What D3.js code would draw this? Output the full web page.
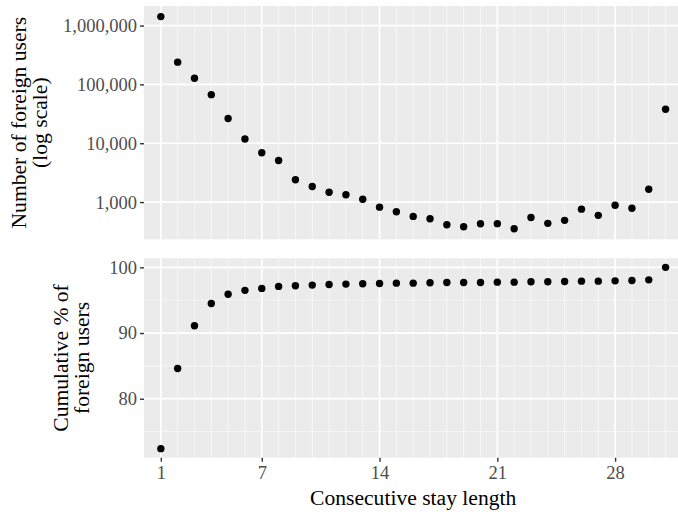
<!DOCTYPE html>
<html>
<head>
<meta charset="utf-8">
<script src="https://cdn.jsdelivr.net/npm/d3@7"></script>
<style>
    body { margin: 0; background: #fff; }
    svg { display: block; font-family: "Liberation Serif", "DejaVu Serif", serif; }
</style>
</head>
<body>
<script>
"use strict";
(function(){
    // stay length in days
    const stayLength = [1, 2, 3, 4, 5, 6, 7, 8, 9, 10, 11, 12, 13, 14, 15, 16,
                        17, 18, 19, 20, 21, 22, 23, 24, 25, 26, 27, 28, 29, 30, 31];
    // number of foreign users
    const users = [1420000, 239000, 127000, 67000, 26300, 11800, 6900, 5100, 2400, 1840,
                   1470, 1330, 1120, 820, 686, 571, 521, 413, 382, 429,
                   430, 353, 548, 435, 489, 759, 595, 881, 785, 1650, 37900];
    // cumulative % of foreign users
    const cumPct = [72.4, 84.6, 91.1, 94.5, 95.9, 96.5, 96.8, 97.1, 97.2, 97.3,
                    97.4, 97.45, 97.5, 97.55, 97.6, 97.6, 97.65, 97.7, 97.7, 97.7,
                    97.75, 97.75, 97.8, 97.8, 97.85, 97.9, 97.9, 97.95, 98.0, 98.1, 100];

    const xBreaks = [1, 7, 14, 21, 28];
    const topBreaks = [1000, 10000, 100000, 1000000];
    const bottomBreaks = [80, 90, 100];
    const bottomMinor = [75, 85, 95];

    const measurements = {
        width: 678,
        height: 512,
        left: 144,
        right: 682.4,
        topPanel: [6, 239.3],
        bottomPanel: [258.3, 457.7]
    }

    let svgContainer = "";

    window.onload = function() {
        svgContainer = d3.select('body').append("svg")
            .attr('width', measurements.width)
            .attr('height', measurements.height);
        makePlot();
    }

    function expanded(lo, hi) {
        const pad = (hi - lo) * 0.05;
        return [lo - pad, hi + pad];
    }

    function makePlot() {
        const scaleX = d3.scaleLinear()
            .domain([0, 32])
            .range([measurements.left, measurements.right]);

        const logExt = expanded(Math.log10(d3.min(users)), Math.log10(d3.max(users)));
        const scaleTop = d3.scaleLog()
            .domain([Math.pow(10, logExt[0]), Math.pow(10, logExt[1])])
            .range([measurements.topPanel[1], measurements.topPanel[0]]);

        const scaleBottom = d3.scaleLinear()
            .domain(expanded(d3.min(cumPct), d3.max(cumPct)))
            .range([measurements.bottomPanel[1], measurements.bottomPanel[0]]);

        drawPanel(scaleX, scaleTop, measurements.topPanel, topBreaks, [], users, d3.format(","));
        drawPanel(scaleX, scaleBottom, measurements.bottomPanel, bottomBreaks, bottomMinor, cumPct, d3.format("d"));

        // bottom x axis
        const xAxis = d3.axisBottom(scaleX)
            .tickValues(xBreaks)
            .tickSize(4)
            .tickPadding(4)
            .tickFormat(d3.format("d"));
        styleAxis(svgContainer.append('g')
            .attr('transform', 'translate(0,' + measurements.bottomPanel[1] + ')')
            .call(xAxis));

        makeLabels();
    }

    function drawPanel(scaleX, scaleY, panel, breaks, minor, values, fmt) {
        const g = svgContainer.append('g');
        g.append('rect')
            .attr('x', measurements.left)
            .attr('y', panel[0])
            .attr('width', measurements.right - measurements.left)
            .attr('height', panel[1] - panel[0])
            .attr('fill', '#EBEBEB');

        // minor grid
        g.selectAll('.vminor')
            .data(stayLength.filter((d) => xBreaks.indexOf(d) < 0))
            .enter().append('line')
            .attr('x1', (d) => scaleX(d)).attr('x2', (d) => scaleX(d))
            .attr('y1', panel[0]).attr('y2', panel[1])
            .attr('stroke', '#F7F7F7').attr('stroke-width', 0.9);
        g.selectAll('.hminor')
            .data(minor)
            .enter().append('line')
            .attr('x1', measurements.left).attr('x2', measurements.right)
            .attr('y1', (d) => scaleY(d)).attr('y2', (d) => scaleY(d))
            .attr('stroke', '#F7F7F7').attr('stroke-width', 0.9);

        // major grid
        g.selectAll('.vmajor')
            .data(xBreaks)
            .enter().append('line')
            .attr('x1', (d) => scaleX(d)).attr('x2', (d) => scaleX(d))
            .attr('y1', panel[0]).attr('y2', panel[1])
            .attr('stroke', '#FFFFFF').attr('stroke-width', 1.7);
        g.selectAll('.hmajor')
            .data(breaks)
            .enter().append('line')
            .attr('x1', measurements.left).attr('x2', measurements.right)
            .attr('y1', (d) => scaleY(d)).attr('y2', (d) => scaleY(d))
            .attr('stroke', '#FFFFFF').attr('stroke-width', 1.7);

        g.selectAll('.dot')
            .data(values)
            .enter()
            .append('circle')
                .attr('cx', (d, i) => scaleX(stayLength[i]))
                .attr('cy', (d) => scaleY(d))
                .attr('r', 3.7)
                .attr('fill', '#000');

        const yAxis = d3.axisLeft(scaleY)
            .tickValues(breaks)
            .tickSize(4)
            .tickPadding(3)
            .tickFormat(fmt);
        styleAxis(svgContainer.append('g')
            .attr('transform', 'translate(' + measurements.left + ',0)')
            .call(yAxis));
    }

    function styleAxis(axis) {
        axis.attr('font-family', '"Liberation Serif", serif')
            .attr('font-size', 18.5);
        axis.select('.domain').remove();
        axis.selectAll('.tick line').attr('stroke', '#333333').attr('stroke-width', 1.4);
        axis.selectAll('.tick text')
            .attr('fill', '#4D4D4D');
    }

    function makeLabels() {
        svgContainer.append('text')
            .attr('x', (measurements.left + measurements.right) / 2)
            .attr('y', 505)
            .attr('text-anchor', 'middle')
            .style('font-size', '21.6px')
            .text('Consecutive stay length');

        const topMid = (measurements.topPanel[0] + measurements.topPanel[1]) / 2;
        const bottomMid = (measurements.bottomPanel[0] + measurements.bottomPanel[1]) / 2;
        yTitle(topMid, 26, ['Number of foreign users', '(log scale)']);
        yTitle(bottomMid, 67.5, ['Cumulative % of', 'foreign users']);
    }

    function yTitle(mid, x, lines) {
        lines.forEach(function(line, i) {
            svgContainer.append('text')
                .attr('transform', 'translate(' + (x + i * 21.3) + ',' + mid + ')rotate(-90)')
                .attr('text-anchor', 'middle')
                .style('font-size', '21.6px')
                .text(line);
        });
    }
})()
</script>
</body>
</html>
